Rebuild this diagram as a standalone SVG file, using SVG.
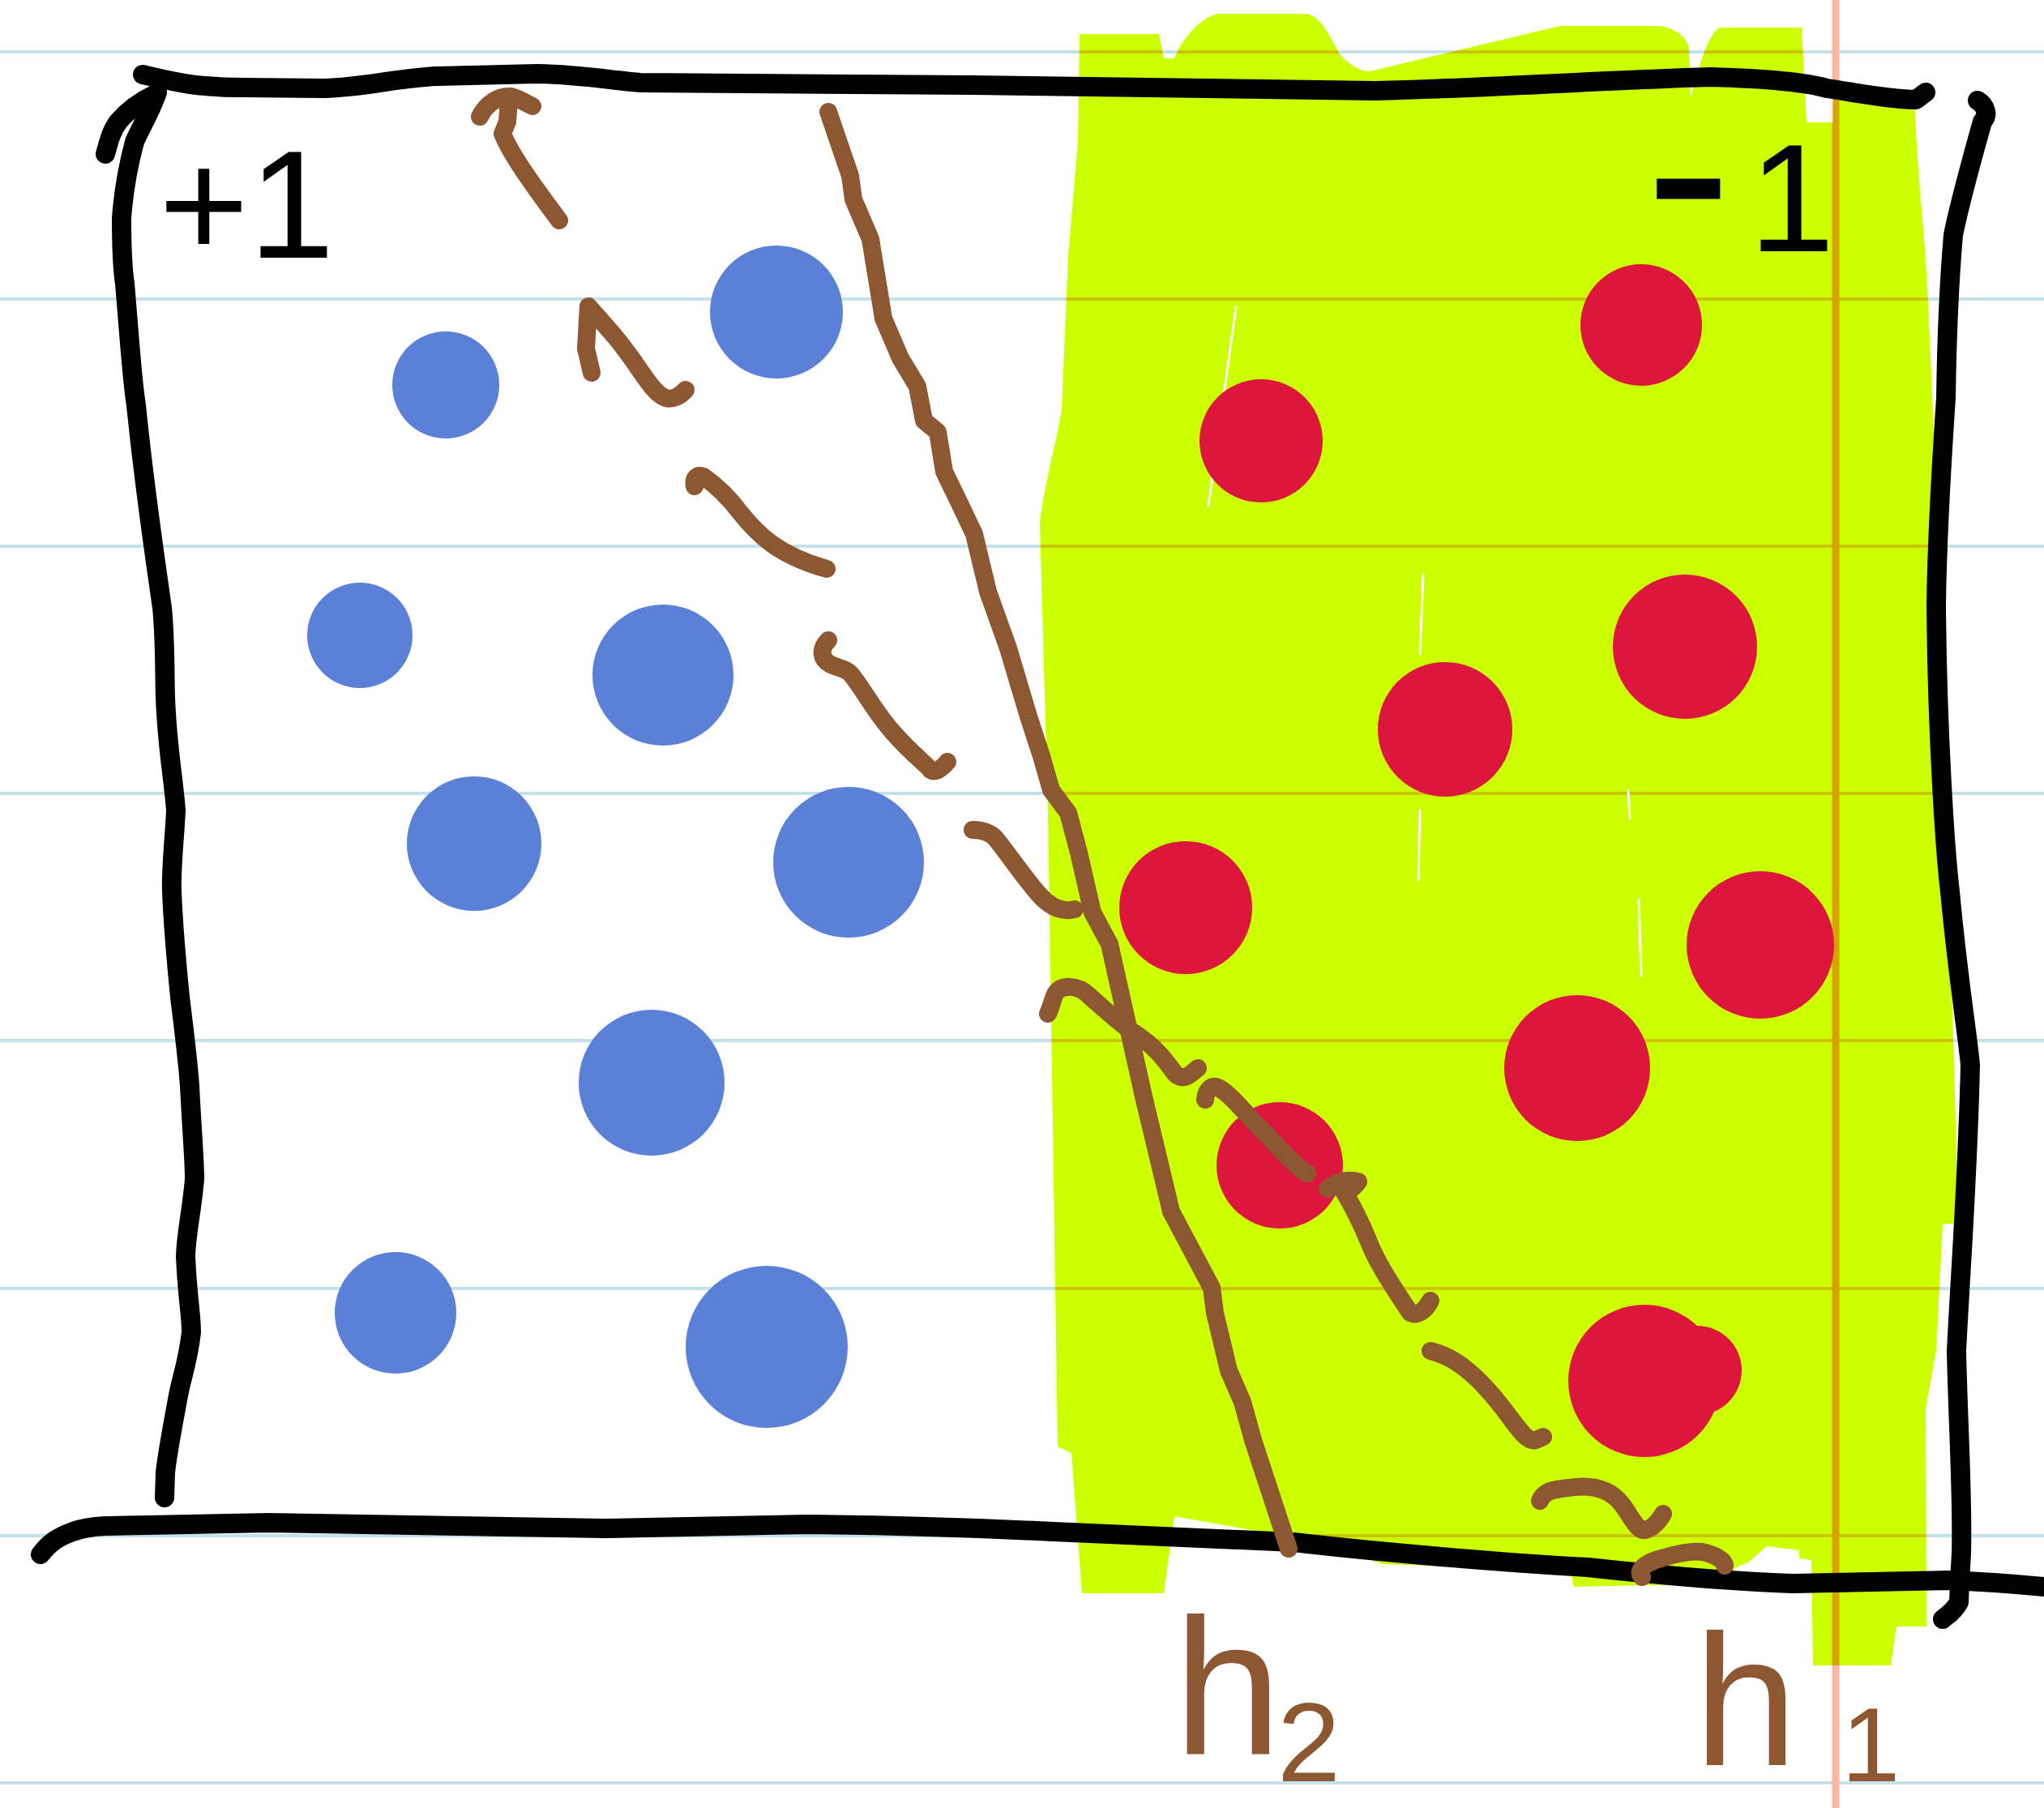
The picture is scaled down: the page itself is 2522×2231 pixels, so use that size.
<svg xmlns="http://www.w3.org/2000/svg" width="2522" height="2231" viewBox="0 0 2522 2231">
<style>
.rule{stroke:#c5e2eb;stroke-width:4px;fill:none}
.rule2{stroke:#c7ad00;stroke-width:4px;fill:none;opacity:0.7}
.ink{stroke:#000;stroke-width:24px;fill:none;stroke-linecap:round;stroke-linejoin:round}
.br{stroke:#8d5731;stroke-width:22px;fill:none;stroke-linecap:round;stroke-linejoin:round}
.blue{fill:#5b80d7}
.red{fill:#dc163c}
.gap{stroke:#fff;stroke-width:3px;fill:none;stroke-linecap:round}
.lbl{font-family:"Liberation Sans",Arial,sans-serif}
</style>
<defs>
<clipPath id="hlc">
<path d="M 1332 42 L 1430 42 L 1436 72 L 1449 72 C 1460 45 1482 22 1502 17 L 1613 17 C 1632 22 1642 48 1653 67 C 1665 80 1678 88 1690 88 L 1925 32 L 2047 32 C 2070 35 2084 48 2084 63 L 2086 120 L 2090 105 C 2100 70 2110 38 2123 34 L 2223 34 L 2229 151 L 2262 151 L 2262 120 L 2362 124 C 2368 250 2377 300 2380 400 C 2388 550 2395 800 2400 1000 C 2408 1200 2414 1400 2416 1510 L 2397 1510 L 2389 1667 L 2376 1738 L 2377 2007 L 2340 2007 L 2333 2055 L 2237 2055 L 2235 1925 L 2220 1923 L 2220 1913 L 2180 1908 L 2157 1928 L 2140 1935 L 2136 1954 L 1942 1958 L 1938 1938 L 1706 1930 C 1690 1926 1680 1915 1672 1911 L 1449 1871 L 1436 1966 L 1335 1966 L 1322 1793 L 1305 1785 L 1293 1000 L 1283 645 C 1290 590 1305 540 1310 505 L 1318 316 L 1330 175 Z"/>
</clipPath>
</defs>
<rect x="0" y="0" width="2522" height="2231" fill="#fff"/>
<g id="paper">
<path class="rule" d="M0 64H2522M0 369H2522M0 674H2522M0 979H2522M0 1284H2522M0 1590H2522M0 1895H2522M0 2200H2522"/>
<path d="M2265 0V2231" stroke="#ffb59e" stroke-width="9" fill="none"/>
</g>
<g id="highlight">
<path fill="#ccff00" d="M 1332 42 L 1430 42 L 1436 72 L 1449 72 C 1460 45 1482 22 1502 17 L 1613 17 C 1632 22 1642 48 1653 67 C 1665 80 1678 88 1690 88 L 1925 32 L 2047 32 C 2070 35 2084 48 2084 63 L 2086 120 L 2090 105 C 2100 70 2110 38 2123 34 L 2223 34 L 2229 151 L 2262 151 L 2262 120 L 2362 124 C 2368 250 2377 300 2380 400 C 2388 550 2395 800 2400 1000 C 2408 1200 2414 1400 2416 1510 L 2397 1510 L 2389 1667 L 2376 1738 L 2377 2007 L 2340 2007 L 2333 2055 L 2237 2055 L 2235 1925 L 2220 1923 L 2220 1913 L 2180 1908 L 2157 1928 L 2140 1935 L 2136 1954 L 1942 1958 L 1938 1938 L 1706 1930 C 1690 1926 1680 1915 1672 1911 L 1449 1871 L 1436 1966 L 1335 1966 L 1322 1793 L 1305 1785 L 1293 1000 L 1283 645 C 1290 590 1305 540 1310 505 L 1318 316 L 1330 175 Z"/>
<g clip-path="url(#hlc)">
<path class="rule2" d="M1200 64H2522M1200 369H2522M1200 674H2522M1200 979H2522M1200 1284H2522M1200 1590H2522M1200 1895H2522M1200 2200H2522"/>
<path d="M2265 0V2231" stroke="#d8a200" stroke-width="9" fill="none"/>
</g>
<path class="gap" d="M1525 379 L1491 624 M1756 709 L1752 807 M2009 975 L2011 1010 M1752 1000 L1750 1086 M2022 1110 L2025 1204"/>
</g>
<g id="blue-points">
<circle class="blue" cx="958" cy="385" r="82"/>
<circle class="blue" cx="550" cy="475" r="66"/>
<circle class="blue" cx="444" cy="784" r="65"/>
<circle class="blue" cx="818" cy="833" r="87"/>
<circle class="blue" cx="585" cy="1041" r="83"/>
<circle class="blue" cx="1047" cy="1064" r="93"/>
<circle class="blue" cx="804" cy="1336" r="90"/>
<circle class="blue" cx="488" cy="1620" r="75"/>
<circle class="blue" cx="946" cy="1662" r="100"/>
</g>
<g id="red-points">
<circle class="red" cx="2025" cy="401" r="75"/>
<circle class="red" cx="1556" cy="544" r="76"/>
<circle class="red" cx="2079" cy="798" r="89"/>
<circle class="red" cx="1783" cy="900" r="83"/>
<circle class="red" cx="1463" cy="1120" r="82"/>
<circle class="red" cx="2172" cy="1166" r="91"/>
<circle class="red" cx="1946" cy="1318" r="90"/>
<circle class="red" cx="1579" cy="1438" r="78"/>
<circle class="red" cx="2029" cy="1704" r="94"/>
<circle class="red" cx="2094" cy="1691" r="55"/>
</g>
<g id="frame">
<path class="ink" d="M 176 92 C 210 100 240 108 300 108 L 400 109 C 450 108 490 96 540 94 L 663 91 C 720 92 760 100 790 102 L 1200 105 L 1697 112 C 1850 108 2000 98 2111 95 C 2180 97 2230 102 2254 109 C 2300 116 2330 122 2364 123 L 2376 114"/>
<path class="ink" d="M 194 114 C 185 140 172 160 166 175 C 158 205 152 240 150 270 C 150 300 151 330 154 350 C 160 420 163 470 168 500 C 178 600 190 680 200 750 C 204 790 203 830 204 860 C 206 920 214 960 217 1000 C 215 1040 211 1070 212 1100 C 214 1150 218 1190 222 1230 C 228 1280 232 1310 234 1340 C 237 1400 240 1430 240 1455 C 236 1500 230 1520 229 1550 C 231 1600 236 1620 236 1644 C 232 1680 224 1700 220 1722 C 213 1760 207 1790 204 1817 L 203 1848"/>
<path class="ink" d="M 192 116 C 175 124 158 136 146 150 C 137 162 134 176 130 190"/>
<path class="ink" d="M 50 1918 C 60 1905 70 1897 90 1890 C 100 1886 110 1884 130 1883 L 332 1879 L 746 1886 L 995 1881 C 1100 1882 1200 1885 1300 1890 L 1596 1903 C 1700 1915 1850 1928 1959 1934 C 2050 1944 2150 1952 2212 1954 L 2406 1950 C 2450 1952 2490 1955 2522 1958"/>
<path class="ink" d="M 2440 124 C 2450 130 2454 142 2446 150 C 2432 200 2418 250 2410 290 C 2404 360 2402 420 2401 491 C 2395 580 2390 680 2389 744 C 2390 900 2400 1050 2406 1100 C 2415 1200 2428 1280 2431 1314 C 2428 1450 2420 1550 2414 1667 C 2416 1760 2422 1850 2420 1917 C 2418 1950 2417 1977 2417 1977 C 2410 1990 2400 1995 2397 1998"/>
</g>
<g id="h2">
<path class="br" d="M 1022 138 L 1049 217 L 1053 246 L 1074 295 L 1090 393 L 1111 442 L 1132 477 L 1140 519 L 1157 533 L 1165 582 L 1182 617 L 1202 659 L 1219 730 L 1244 800 L 1269 884 L 1285 933 L 1297 975 L 1318 1003 L 1331 1052 L 1348 1126 L 1369 1165 L 1390 1259 L 1411 1353 L 1445 1495 L 1495 1589 L 1499 1620 L 1516 1691 L 1533 1730 L 1546 1777 L 1590 1911"/>
<text class="lbl" x="1448" y="2165" font-size="240" fill="#8d5731">h<tspan x="1576" y="2198" font-size="140">2</tspan></text>
</g>
<g id="h1">
<path class="br" d="M 592 144 C 600 128 615 118 630 119 C 642 122 650 128 657 131 M 628 124 L 626 150 L 620 165 C 630 190 655 225 690 272"/>
<path class="br" d="M 730 460 L 723 430 L 726 378 C 745 400 760 415 771 431 C 790 455 805 485 821 491 C 830 494 840 488 846 481"/>
<path class="br" d="M 857 600 C 855 590 860 585 868 588 C 885 600 900 615 912 631 C 935 660 960 685 1020 702"/>
<path class="br" d="M 1022 790 C 1012 800 1010 815 1030 822 C 1040 826 1045 826 1050 832 C 1065 850 1080 880 1103 905 C 1125 930 1145 945 1148 950 C 1155 955 1165 945 1169 940"/>
<path class="br" d="M 1200 1024 C 1212 1024 1222 1028 1228 1034 C 1245 1055 1265 1085 1284 1106 C 1297 1120 1312 1126 1326 1122"/>
<path class="br" d="M 1293 1251 C 1298 1240 1300 1228 1303 1225 C 1310 1215 1330 1215 1343 1228 C 1360 1243 1380 1262 1400 1275 C 1420 1288 1432 1300 1450 1325 C 1460 1335 1470 1325 1478 1318"/>
<path class="br" d="M 1487 1357 C 1488 1345 1495 1338 1503 1342 C 1520 1350 1545 1385 1563 1400 C 1585 1425 1600 1440 1613 1448"/>
<path class="br" d="M 1638 1467 C 1650 1457 1665 1455 1676 1458 C 1668 1470 1660 1471 1655 1467 M 1658 1470 C 1670 1490 1680 1510 1690 1535 C 1700 1560 1720 1590 1740 1620 C 1750 1625 1760 1615 1765 1605"/>
<path class="br" d="M 1765 1667 C 1800 1675 1830 1705 1860 1745 C 1875 1765 1885 1780 1895 1777 L 1904 1773"/>
<path class="br" d="M 1900 1852 C 1905 1840 1915 1838 1935 1836 C 1960 1832 1985 1835 2001 1856 C 2012 1870 2020 1890 2030 1888 C 2040 1885 2048 1875 2052 1868"/>
<path class="br" d="M 2026 1946 C 2020 1940 2025 1932 2043 1925 C 2065 1918 2085 1913 2100 1915 C 2115 1918 2128 1925 2128 1932"/>
<text class="lbl" x="2090" y="2178" font-size="230" fill="#8d5731">h<tspan x="2272" y="2198" font-size="130">1</tspan></text>
</g>
<g id="label-plus1">
<text class="lbl" x="196" y="318" font-size="190" fill="#000">+1</text>
</g>
<g id="label-minus1">
<text class="lbl" x="2030" y="318" font-size="320" fill="#000">-<tspan x="2158" y="310" font-size="190">1</tspan></text>
</g>
</svg>
